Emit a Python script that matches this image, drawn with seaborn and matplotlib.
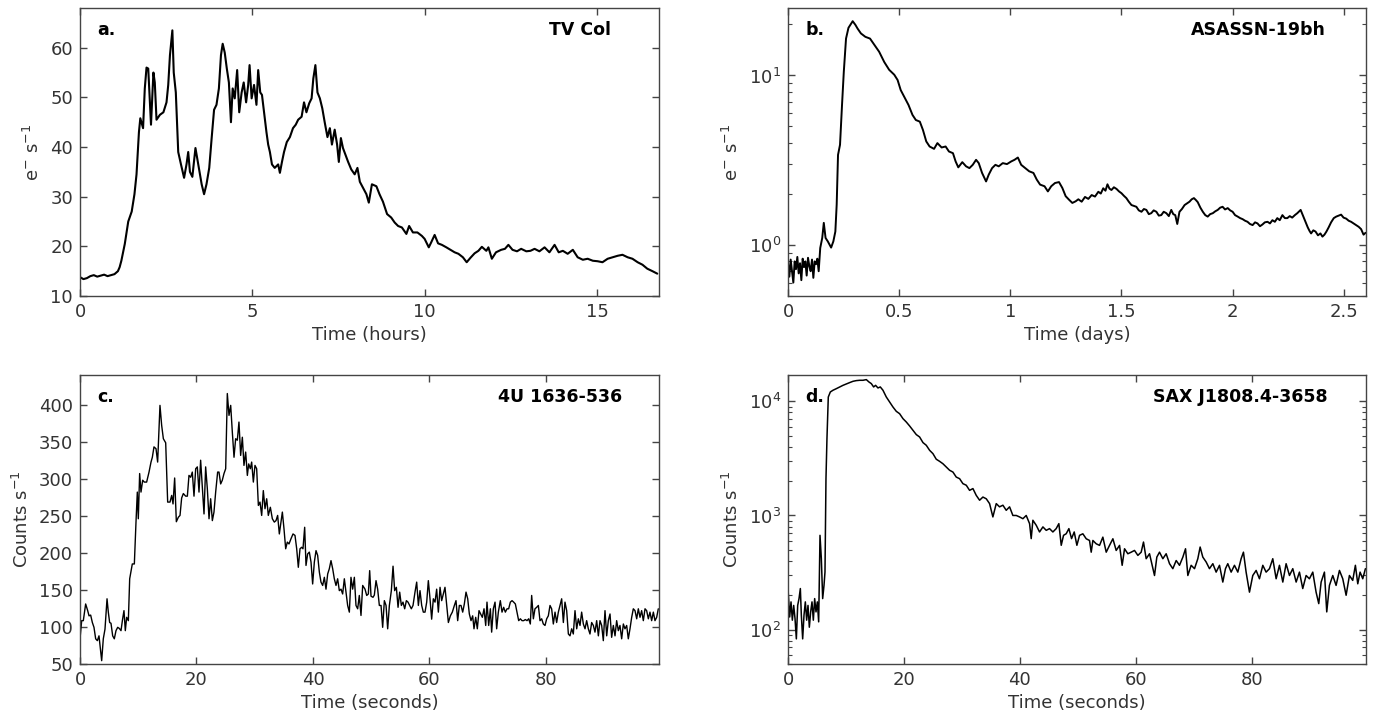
import numpy as np
import pandas as pd
import matplotlib
matplotlib.use("Agg")
import matplotlib.pyplot as plt
import matplotlib.ticker as mticker
import seaborn as sns

# ---------------- data: panel a (TV Col) ----------------
a_time = [0.0, 0.1, 0.2, 0.3, 0.4, 0.5, 0.6, 0.7, 0.8, 0.9, 1.0, 1.1, 1.15,
          1.2, 1.3, 1.4, 1.5, 1.58, 1.64, 1.71, 1.75, 1.83, 1.88, 1.93, 1.98,
          2.06, 2.13, 2.17, 2.22, 2.32, 2.42, 2.51, 2.56, 2.61, 2.68, 2.72,
          2.78, 2.85, 2.93, 3.02, 3.09, 3.14, 3.19, 3.26, 3.35, 3.43, 3.53,
          3.60, 3.67, 3.75, 3.82, 3.89, 3.96, 4.03, 4.09, 4.14, 4.20, 4.26,
          4.32, 4.38, 4.43, 4.49, 4.56, 4.62, 4.69, 4.75, 4.82, 4.88, 4.92,
          4.98, 5.05, 5.12, 5.17, 5.23, 5.28, 5.34, 5.41, 5.46, 5.51, 5.57,
          5.65, 5.75, 5.80, 5.86, 5.92, 6.00, 6.09, 6.18, 6.26, 6.33, 6.43,
          6.50, 6.57, 6.65, 6.72, 6.77, 6.83, 6.89, 6.96, 7.03, 7.10, 7.18,
          7.25, 7.31, 7.39, 7.46, 7.51, 7.57, 7.63, 7.70, 7.78, 7.87, 7.97,
          8.05, 8.12, 8.21, 8.31, 8.38, 8.47, 8.60, 8.69, 8.79, 8.91, 9.03,
          9.13, 9.23, 9.34, 9.47, 9.55, 9.66, 9.79, 9.92, 10.0, 10.12, 10.19,
          10.29, 10.39, 10.50, 10.63, 10.75, 10.87, 10.98, 11.11, 11.22, 11.33,
          11.45, 11.56, 11.66, 11.79, 11.85, 11.95, 12.07, 12.22, 12.33, 12.43,
          12.55, 12.68, 12.80, 12.95, 13.07, 13.19, 13.33, 13.48, 13.62, 13.77,
          13.89, 14.01, 14.15, 14.30, 14.44, 14.59, 14.73, 14.88, 15.02, 15.16,
          15.31, 15.45, 15.60, 15.74, 15.89, 16.03, 16.18, 16.32, 16.46, 16.61,
          16.75]
a_rate = [13.8, 13.4, 13.6, 14.0, 14.2, 13.9, 14.1, 14.3, 14.0, 14.2, 14.4, 15.0, 15.8,
          17.1, 20.5, 25.0, 27.0, 30.5, 34.5, 43.0, 45.8, 43.8, 51.8, 56.0, 55.8,
          44.5, 55.0, 53.0, 45.5, 46.5, 47.0, 49.0, 52.5, 58.5, 63.5, 55.0,
          51.0, 39.0, 36.5, 33.8, 36.5, 39.0, 35.0, 34.0, 39.8, 36.5, 32.5,
          30.5, 32.5, 35.8, 41.8, 47.5, 48.5, 51.8, 58.5, 60.8, 59.0, 55.8,
          53.0, 45.0, 51.8, 49.8, 55.5, 47.0, 51.0, 53.0, 49.0, 52.5, 56.5,
          49.8, 52.5, 48.5, 55.5, 51.0, 50.5, 47.0, 43.0, 40.5, 39.0, 36.5,
          35.8, 36.5, 34.8, 37.0, 39.0, 41.0, 42.0, 43.8, 44.5, 45.5, 46.1,
          49.0, 47.0, 48.8, 49.8, 53.8, 56.5, 51.0, 49.8, 47.8, 45.0, 42.0,
          43.8, 40.5, 43.5, 40.5, 37.0, 41.8, 39.8, 38.5, 37.0, 35.5, 34.5,
          35.8, 33.0, 31.8, 30.5, 28.8, 32.5, 32.1, 30.5, 29.0, 26.5, 25.8,
          24.8, 24.1, 23.8, 22.5, 24.1, 22.8, 22.8, 22.1, 21.5, 19.8, 20.8,
          22.3, 20.6, 20.3, 19.8, 19.3, 18.8, 18.5, 17.8, 16.8, 17.7,
          18.6, 19.1, 19.9, 19.1, 19.8, 17.5, 18.8, 19.3, 19.5, 20.3,
          19.3, 19.0, 19.5, 19.0, 19.1, 19.5, 19.0, 19.8, 18.8, 20.3,
          18.8, 19.1, 18.5, 19.3, 17.8, 17.3, 17.5, 17.1, 17.0, 16.8,
          17.5, 17.8, 18.1, 18.3, 17.8, 17.5, 16.8, 16.3, 15.5, 15.0,
          14.5]

# ---------------- data: panel b (ASASSN-19bh) ----------------
b_time = [0.000, 0.006, 0.012, 0.018, 0.024, 0.030, 0.036, 0.042, 0.048, 0.054,
          0.060, 0.066, 0.072, 0.078, 0.084, 0.090, 0.096, 0.102, 0.108, 0.114,
          0.120, 0.126, 0.132, 0.138, 0.145, 0.154, 0.161, 0.169, 0.179, 0.194,
          0.204, 0.213, 0.219, 0.225, 0.234, 0.243, 0.251, 0.261, 0.272, 0.284,
          0.291, 0.303, 0.313, 0.328, 0.348, 0.369, 0.388, 0.410, 0.433, 0.455,
          0.478, 0.493, 0.507, 0.527, 0.542, 0.560, 0.575, 0.593, 0.607, 0.622,
          0.637, 0.657, 0.672, 0.691, 0.709, 0.724, 0.742, 0.754, 0.766, 0.784,
          0.801, 0.816, 0.831, 0.846, 0.858, 0.873, 0.891, 0.903, 0.918, 0.933,
          0.948, 0.966, 0.985, 1.004, 1.019, 1.034, 1.049, 1.067, 1.085, 1.104,
          1.119, 1.134, 1.154, 1.169, 1.184, 1.201, 1.219, 1.234, 1.249, 1.264,
          1.279, 1.294, 1.306, 1.321, 1.336, 1.351, 1.366, 1.381, 1.396, 1.407,
          1.418, 1.428, 1.437, 1.446, 1.455, 1.466, 1.478, 1.489, 1.500, 1.511,
          1.522, 1.533, 1.545, 1.556, 1.567, 1.578, 1.590, 1.601, 1.612, 1.623,
          1.634, 1.645, 1.657, 1.668, 1.679, 1.690, 1.702, 1.713, 1.724, 1.733,
          1.742, 1.751, 1.761, 1.772, 1.784, 1.795, 1.806, 1.816, 1.826, 1.835,
          1.843, 1.855, 1.866, 1.877, 1.888, 1.899, 1.911, 1.922, 1.933, 1.944,
          1.955, 1.966, 1.978, 1.989, 2.000, 2.011, 2.023, 2.034, 2.045, 2.056,
          2.067, 2.078, 2.090, 2.101, 2.112, 2.123, 2.134, 2.145, 2.157, 2.168,
          2.179, 2.190, 2.201, 2.212, 2.224, 2.235, 2.246, 2.257, 2.268, 2.280,
          2.291, 2.306, 2.321, 2.330, 2.338, 2.346, 2.353, 2.363, 2.373, 2.384,
          2.395, 2.404, 2.413, 2.422, 2.432, 2.443, 2.455, 2.466, 2.477, 2.488,
          2.499, 2.511, 2.522, 2.533, 2.544, 2.555, 2.567, 2.578, 2.589, 2.598]
b_rate = [0.78, 0.65, 0.82, 0.70, 0.60, 0.80, 0.72, 0.85, 0.68, 0.78,
          0.62, 0.83, 0.74, 0.80, 0.66, 0.84, 0.75, 0.70, 0.82, 0.64,
          0.80, 0.77, 0.83, 0.70, 0.96, 1.10, 1.35, 1.10, 1.05, 0.965,
          1.05, 1.20, 1.73, 3.40, 3.90, 6.70, 10.5, 16.5, 19.1, 20.2,
          20.9, 19.9, 18.9, 17.7, 16.9, 16.5, 15.2, 13.8, 12.0, 10.8,
          10.1, 9.4, 8.2, 7.3, 6.7, 5.85, 5.46, 5.34, 4.77, 4.08,
          3.81, 3.69, 3.99, 3.76, 3.81, 3.56, 3.48, 3.11, 2.87, 3.08,
          2.91, 2.84, 2.97, 3.18, 3.04, 2.66, 2.37, 2.60, 2.84, 2.97,
          2.91, 3.04, 3.00, 3.11, 3.18, 3.28, 2.97, 2.84, 2.72, 2.66,
          2.43, 2.27, 2.22, 2.07, 2.22, 2.32, 2.35, 2.17, 1.94, 1.85,
          1.77, 1.81, 1.86, 1.80, 1.92, 1.87, 1.97, 1.93, 2.06, 2.01,
          2.16, 2.09, 2.28, 2.15, 2.11, 2.19, 2.14, 2.07, 2.02, 1.95,
          1.89, 1.80, 1.72, 1.70, 1.68, 1.60, 1.57, 1.63, 1.61, 1.52,
          1.54, 1.60, 1.57, 1.49, 1.50, 1.57, 1.54, 1.48, 1.61, 1.52,
          1.50, 1.33, 1.57, 1.63, 1.72, 1.76, 1.80, 1.86, 1.89, 1.84,
          1.79, 1.66, 1.57, 1.50, 1.47, 1.52, 1.54, 1.58, 1.61, 1.66,
          1.68, 1.62, 1.65, 1.60, 1.57, 1.50, 1.47, 1.44, 1.42, 1.39,
          1.37, 1.33, 1.31, 1.36, 1.34, 1.29, 1.32, 1.36, 1.37, 1.34,
          1.40, 1.37, 1.44, 1.40, 1.50, 1.44, 1.44, 1.48, 1.45, 1.50,
          1.54, 1.61, 1.44, 1.35, 1.27, 1.21, 1.17, 1.22, 1.20, 1.14,
          1.17, 1.12, 1.15, 1.20, 1.27, 1.36, 1.44, 1.47, 1.49, 1.51,
          1.45, 1.43, 1.39, 1.37, 1.34, 1.31, 1.28, 1.24, 1.15, 1.18]

# ---------------- data: panel c (4U 1636-536) ----------------
c_time = [0.00, 0.29, 0.57, 0.97, 1.32, 1.55, 1.83, 2.12, 2.40, 2.69, 2.98, 3.26,
          3.72, 4.00, 4.29, 4.64, 4.86, 5.09, 5.32, 5.61, 5.89, 6.18, 6.47, 6.75,
          7.04, 7.32, 7.55, 7.78, 8.01, 8.30, 8.53, 8.76, 8.98, 9.33, 9.61, 9.84,
          10.01, 10.24, 10.47, 10.76, 11.04, 11.44, 11.85, 12.19, 12.42, 12.70,
          13.05, 13.33, 13.73, 14.02, 14.31, 14.71, 15.05, 15.45, 15.74, 15.97,
          16.25, 16.54, 16.88, 17.17, 17.45, 17.74, 18.14, 18.43, 18.71, 19.00,
          19.28, 19.57, 19.86, 20.14, 20.43, 20.71, 21.00, 21.29, 21.57, 21.86,
          22.15, 22.43, 22.72, 23.00, 23.29, 23.63, 23.86, 24.15, 24.43, 24.72,
          25.01, 25.29, 25.58, 25.87, 26.15, 26.44, 26.72, 27.01, 27.29, 27.58,
          27.87, 28.15, 28.44, 28.73, 28.96, 29.24, 29.47, 29.76, 30.04, 30.33,
          30.62, 30.90, 31.19, 31.47, 31.76, 32.05, 32.33, 32.68, 33.02, 33.36,
          33.65, 33.93, 34.22, 34.51, 34.74, 35.02, 35.31, 35.59, 35.88, 36.22,
          36.57, 36.91, 37.20, 37.48, 37.77, 38.05, 38.28, 38.57, 38.80, 39.08,
          39.37, 39.66, 39.94, 40.23, 40.52, 40.80, 41.09, 41.37, 41.66, 41.95,
          42.23, 42.52, 42.80, 43.09, 43.38, 43.66, 43.95, 44.23, 44.52, 44.81,
          45.09, 45.38, 45.67, 45.95, 46.24, 46.52, 46.81, 47.10, 47.38, 47.67,
          47.95, 48.24, 48.53, 48.93, 49.22, 49.50, 49.73, 49.96, 50.30, 50.53,
          50.82, 51.10, 51.39, 51.68, 51.96, 52.25, 52.54, 52.82, 53.11, 53.45,
          53.74, 54.02, 54.31, 54.60, 54.88, 55.17, 55.45, 55.74, 56.03, 56.31,
          56.60, 56.88, 57.17, 57.51, 57.80, 58.09, 58.37, 58.66, 58.94, 59.23,
          59.52, 59.80, 60.09, 60.37, 60.66, 60.95, 61.23, 61.52, 61.81, 62.09,
          62.38, 62.66, 62.95, 63.24, 63.58, 63.92, 64.27, 64.55, 64.84, 65.12,
          65.41, 65.70, 65.98, 66.27, 66.56, 66.84, 67.13, 67.41, 67.64, 67.93,
          68.21, 68.50, 68.79, 69.07, 69.36, 69.65, 69.87, 70.16, 70.45, 70.67,
          70.96, 71.25, 71.53, 71.82, 72.16, 72.45, 72.73, 73.02, 73.31, 73.59,
          73.88, 74.17, 74.45, 74.74, 75.02, 75.31, 75.60, 75.88, 76.17, 76.45,
          76.74, 77.03, 77.31, 77.54, 77.83, 78.11, 78.40, 78.69, 78.97, 79.26,
          79.54, 79.83, 80.12, 80.40, 80.69, 80.97, 81.26, 81.55, 81.83, 82.12,
          82.40, 82.69, 82.98, 83.26, 83.55, 83.84, 84.12, 84.41, 84.69, 84.98,
          85.27, 85.55, 85.84, 86.12, 86.41, 86.70, 86.98, 87.27, 87.55, 87.84,
          88.13, 88.41, 88.70, 88.99, 89.27, 89.56, 89.84, 90.13, 90.42, 90.70,
          90.99, 91.27, 91.56, 91.85, 92.13, 92.42, 92.70, 92.99, 93.28, 93.56,
          93.85, 94.13, 94.42, 94.71, 94.99, 95.28, 95.57, 95.85, 96.14, 96.42,
          96.71, 97.00, 97.28, 97.57, 97.85, 98.14, 98.43, 98.71, 99.00, 99.28]
c_rate = [84, 108.5, 108.5, 131, 122, 115, 116, 106, 99.5, 84, 81.5, 88,
          54.5, 84, 97, 138, 120, 106, 105, 88, 84, 95, 99.5, 98,
          95, 111, 122, 95, 113, 108.5, 165, 175, 185, 185, 241, 282,
          246, 307, 282, 298, 295.5, 295.5, 309, 322.5, 329, 343,
          340.5, 322.5, 399, 372, 354, 348.5, 268.5, 268.5, 277.5, 266,
          301, 242, 248, 250.5, 274, 280, 276.5, 276.5, 304.5, 302,
          309, 276.5, 313.5, 316, 282, 325, 289, 252.5, 316, 286.5,
          246, 273, 243.5, 255, 282, 309, 309, 293, 298, 307,
          313.5, 415, 385.5, 399, 363, 329, 354, 352, 376.5, 331.5,
          356, 318, 336, 304.5, 320, 313.5, 322.5, 295.5, 318, 313.5,
          264, 268.5, 250.5, 284, 259.5, 273, 250.5, 261.5, 246, 241.5,
          243.5, 250.5, 225.5, 241.5, 255, 232.5, 205.5, 214.5, 212, 219,
          225.5, 223.5, 205.5, 180.5, 205.5, 207.5, 205.5, 234.5, 183, 198.5,
          201, 187.5, 158, 187.5, 203, 196.5, 174, 160.5, 156, 167,
          151, 171.5, 178.5, 189.5, 178.5, 165, 156, 165, 149, 151,
          144.5, 165, 147, 129, 120, 167, 151, 167, 129, 124.5,
          142.5, 115.5, 156, 151, 142.5, 144.5, 176, 141.5, 140, 143,
          162.5, 151, 129, 129, 99.5, 135.5, 129, 97.5, 129, 149,
          182, 149, 153.5, 126.5, 147, 129, 133.5, 124.5, 135.5, 133.5,
          129, 124.5, 129, 147, 160.5, 129, 149, 129, 120, 120,
          133.5, 162.5, 138, 110.5, 138, 133.5, 151, 120, 153.5, 135.5,
          144.5, 153.5, 129, 106, 115, 120, 129, 135.5, 108.5, 129,
          129, 120, 131, 147, 138, 117.5, 108.5, 115, 97.5, 113,
          97.5, 122, 117.5, 113, 124.5, 102, 133.5, 102, 124.5, 93,
          124.5, 133.5, 97.5, 120, 135.5, 120, 126.5, 120, 124.5, 124.5,
          133.5, 135.5, 133.5, 131, 120, 108.5, 111, 108.5, 108.5, 110,
          108.5, 111, 104, 142.5, 111, 124.5, 126.5, 129, 108.5, 111,
          104, 102, 111, 115, 129, 124.5, 104, 120, 106, 120,
          129, 138, 106, 133.5, 122, 90.5, 88, 97.5, 90.5, 122,
          97.5, 111, 102, 120, 104, 97.5, 108.5, 97.5, 90.5, 106,
          102, 93, 108.5, 88, 108.5, 102, 81.5, 122, 88, 108.5,
          117.5, 86, 102, 88, 108.5, 95, 102, 84, 104, 97.5,
          102, 84, 97.5, 113, 124.5, 122, 111, 124.5, 113, 122,
          108.5, 124.5, 122, 111, 120, 108.5, 120, 108.5, 113, 124.5]

# ---------------- data: panel d (SAX J1808.4-3658) ----------------
d_time = [0.00, 0.29, 0.52, 0.75, 0.98, 1.21, 1.44, 1.67, 1.90, 2.13, 2.30, 2.53,
          2.76, 2.99, 3.22, 3.45, 3.68, 3.91, 4.14, 4.37, 4.60, 4.83, 5.06, 5.29,
          5.52, 5.75, 5.98, 6.21, 6.38, 6.55, 6.72, 6.95, 7.30, 7.76, 8.33, 8.91,
          9.48, 10.06, 10.63, 11.21, 11.78, 12.36, 12.93, 13.51, 13.97, 14.37,
          14.77, 15.11, 15.52, 15.92, 16.38, 16.95, 17.53, 18.10, 18.68, 19.25,
          19.83, 20.40, 20.98, 21.55, 22.13, 22.70, 23.28, 23.85, 24.43, 25.00,
          25.57, 26.15, 26.72, 27.30, 27.87, 28.45, 29.02, 29.60, 30.17, 30.75,
          31.32, 31.90, 32.47, 33.05, 33.62, 34.20, 34.77, 35.34, 35.92, 36.49,
          37.07, 37.64, 38.22, 38.79, 39.37, 39.94, 40.52, 41.09, 41.67, 41.95,
          42.24, 42.82, 43.39, 43.97, 44.54, 45.11, 45.69, 46.26, 46.72, 47.13,
          47.53, 47.99, 48.45, 48.91, 49.37, 49.83, 50.29, 50.86, 51.44, 52.01,
          52.30, 52.59, 53.16, 53.74, 54.31, 54.89, 55.46, 56.04, 56.61, 57.19,
          57.64, 58.05, 58.62, 59.20, 59.77, 60.35, 60.92, 61.32, 61.78, 62.36,
          62.82, 63.22, 63.62, 64.08, 64.66, 65.23, 65.81, 66.38, 66.96, 67.53,
          68.11, 68.57, 68.97, 69.54, 70.12, 70.69, 71.09, 71.55, 72.13, 72.70,
          73.28, 73.85, 74.43, 75.00, 75.46, 75.86, 76.44, 77.01, 77.59, 78.16,
          78.56, 79.02, 79.60, 80.17, 80.75, 81.32, 81.90, 82.47, 83.05, 83.62,
          84.20, 84.77, 85.35, 85.92, 86.50, 87.07, 87.65, 88.22, 88.79, 89.37,
          89.94, 90.52, 91.09, 91.55, 91.96, 92.53, 92.93, 93.39, 93.97, 94.54,
          95.12, 95.69, 96.27, 96.84, 97.41, 97.87, 98.28, 98.68, 99.14, 99.60]
d_rate = [229, 129, 175, 121, 163, 125, 83, 163, 187, 229, 134, 83,
          134, 175, 121, 163, 105, 143, 175, 121, 187, 143, 175, 117,
          670, 419, 187, 244, 320, 2100, 4710, 10900, 12070, 12500, 12900, 13360,
          13800, 14200, 14580, 14970, 15180, 15280, 15280, 15490, 14760, 14290,
          13360, 13800, 13090, 13360, 12500, 10920, 9870, 8920, 8170, 7790,
          7050, 6590, 6080, 5570, 5110, 4870, 4350, 4120, 3720, 3480,
          3110, 2980, 2840, 2660, 2490, 2400, 2170, 2100, 1900, 1840,
          1660, 1720, 1500, 1360, 1450, 1400, 1270, 971, 1270, 1190,
          1230, 1110, 1190, 1000, 1000, 971, 937, 1000, 848, 627,
          908, 820, 717, 794, 741, 767, 717, 767, 848, 548,
          670, 692, 767, 627, 717, 548, 670, 691, 625, 604,
          477, 604, 565, 547, 646, 477, 547, 625, 494, 547,
          366, 511, 462, 477, 494, 447, 477, 585, 418, 462,
          366, 298, 432, 477, 418, 462, 378, 342, 403, 366,
          432, 511, 298, 366, 342, 418, 529, 432, 391, 342,
          378, 319, 366, 261, 342, 378, 319, 366, 319, 418,
          477, 319, 213, 298, 330, 279, 366, 319, 342, 418,
          279, 366, 261, 378, 298, 342, 261, 319, 229, 298,
          279, 319, 213, 169, 261, 319, 143, 244, 298, 244,
          330, 279, 200, 298, 270, 366, 252, 319, 279, 342]

panel_letters = ["a.", "b.", "c.", "d."]
panel_names = ["TV Col", "ASASSN-19bh", "4U 1636-536", "SAX J1808.4-3658"]
x_labels = ["Time (hours)", "Time (days)", "Time (seconds)", "Time (seconds)"]
y_labels = [r"e$^{-}$ s$^{-1}$", r"e$^{-}$ s$^{-1}$",
            r"Counts s$^{-1}$", r"Counts s$^{-1}$"]

# ---------------- figure ----------------
sns.set_style("ticks")
plt.rcParams["font.family"] = ["DejaVu Sans"]
plt.rcParams["mathtext.fontset"] = "dejavusans"

fig = plt.figure(figsize=(13.81, 7.18), dpi=100)
W, H = 1381, 718
boxes = [(80, 8, 659, 296), (788, 8, 1366, 296),
         (80, 375, 659, 664), (788, 375, 1366, 664)]
axes = []
for (x0, y0, x1, y1) in boxes:
    axes.append(fig.add_axes([x0 / W, 1 - y1 / H, (x1 - x0) / W, (y1 - y0) / H]))

datasets = [(a_time, a_rate), (b_time, b_rate), (c_time, c_rate), (d_time, d_rate)]
lws = [1.5, 1.4, 1.0, 1.1]
for ax, (t, r), lw in zip(axes, datasets, lws):
    df = pd.DataFrame({"t": t, "r": r})
    sns.lineplot(data=df, x="t", y="r", ax=ax, color="black", lw=lw,
                 estimator=None, sort=False)

spine_col = "#444444"
text_col = "#333333"

# panel-specific axes settings
axes[0].set_xlim(0, 16.8)
axes[0].set_ylim(10, 68)
axes[0].set_xticks([0, 5, 10, 15])
axes[0].set_yticks([10, 20, 30, 40, 50, 60])

axes[1].set_yscale("log")
axes[1].set_xlim(0, 2.6)
axes[1].set_ylim(0.5, 25)
axes[1].set_xticks([0, 0.5, 1, 1.5, 2, 2.5])
axes[1].xaxis.set_major_formatter(mticker.FuncFormatter(lambda v, p: "%g" % v))

axes[2].set_xlim(0, 99.4)
axes[2].set_ylim(50, 440)
axes[2].set_xticks([0, 20, 40, 60, 80])
axes[2].set_yticks([50, 100, 150, 200, 250, 300, 350, 400])

axes[3].set_yscale("log")
axes[3].set_xlim(0, 99.7)
axes[3].set_ylim(50, 1.7e4)
axes[3].set_xticks([0, 20, 40, 60, 80])

name_x = [0.917, 0.931, 0.936, 0.934]
for i, ax in enumerate(axes):
    ax.set_xlabel(x_labels[i], fontsize=13, color=text_col, labelpad=4)
    ax.set_ylabel(y_labels[i], fontsize=13, color=text_col, labelpad=5)
    ax.tick_params(axis="both", which="major", direction="in", top=True, right=True,
                   length=5, width=1, color=spine_col, labelsize=13,
                   labelcolor=text_col, pad=5)
    ax.tick_params(axis="both", which="minor", direction="in", top=True, right=True,
                   length=3, width=0.8, color=spine_col)
    for s in ax.spines.values():
        s.set_color(spine_col)
        s.set_linewidth(1.0)
    ax.text(0.03, 0.925, panel_letters[i], transform=ax.transAxes,
            fontsize=12.5, fontweight="bold", ha="left", va="center", color="black")
    ax.text(name_x[i], 0.925, panel_names[i], transform=ax.transAxes,
            fontsize=12.5, fontweight="bold", ha="right", va="center", color="black")

fig.savefig("out.png", dpi=100)
